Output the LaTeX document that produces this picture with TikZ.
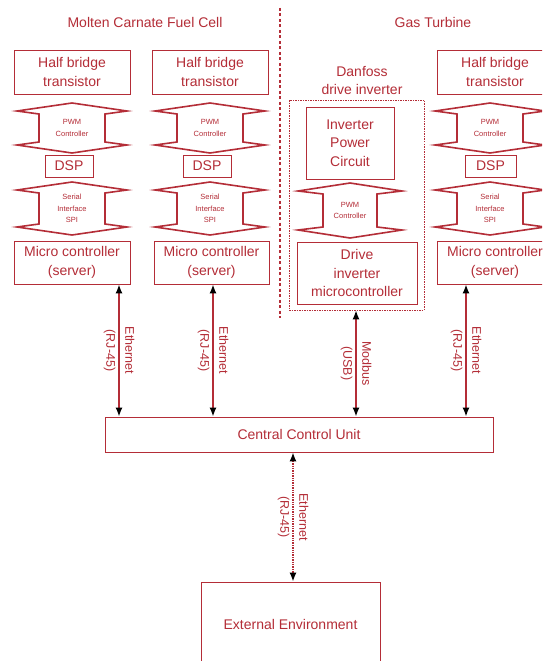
\documentclass[tikz,border=0pt]{standalone}
\usepackage{fontspec}
\setmainfont{Liberation Sans}
\usepackage{tikz}
\usetikzlibrary{arrows.meta,positioning}
\usepackage{xcolor}
\definecolor{fcred}{RGB}{180, 45, 55}

% double-headed block arrow: name, x, top, bottom, body half width, head half width, text
\newcommand{\fatarrow}[7]{%
  \draw[fat] (#2,#3) -- ({#2+#6},{#3+8}) -- ({#2+#5},{#3+11}) -- ({#2+#5},{#4-11})
    -- ({#2+#6},{#4-8}) -- (#2,#4) -- ({#2-#6},{#4-8}) -- ({#2-#5},{#4-11})
    -- ({#2-#5},{#3+11}) -- ({#2-#6},{#3+8}) -- cycle;
  \node[smalllbl] (#1) at (#2,{(#3+#4)/2}) {#7};
}

\begin{document}
\begin{tikzpicture}[
  x=1pt, y=-1pt,
  every node/.style={text=fcred, align=center},
  box/.style={draw=fcred, line width=0.9pt, inner sep=0pt, font=\fontsize{14}{18.5}\selectfont},
  fat/.style={draw=fcred, line width=1.6pt, line join=miter},
  smalllbl/.style={font=\fontsize{7.5}{11.5}\selectfont},
  heading/.style={font=\fontsize{14}{17}\selectfont},
  link/.style={draw=fcred, line width=1.4pt, arrows={Latex[black,length=9pt,width=7pt]-Latex[black,length=9pt,width=7pt]}},
  linklbl/.style={rotate=-90, font=\fontsize{12.5}{19}\selectfont}
]
  \useasboundingbox (0,0) rectangle (542,661);
  \clip (0,0) rectangle (542,661);
  \fill[white] (0,0) rectangle (542,661);

  % Titles and divider
  \node (ttlFC) [heading] at (145,22) {Molten Carnate Fuel Cell};
  \node (ttlGT) [heading] at (433,22) {Gas Turbine};
  \draw[fcred, line width=1.8pt, dash pattern=on 3pt off 2.5pt] (280,8) -- (280,318);

  % Fuel cell column 1
  \node (hbA) [box, minimum width=116, minimum height=44] at (72,72) {Half bridge\\transistor};
  \fatarrow{pwmA}{72}{103}{153}{33}{55}{PWM\\Controller}
  \node (dspA) [box, minimum width=48, minimum height=22] at (69,166) {DSP};
  \fatarrow{spiA}{72}{182}{235}{33}{55}{Serial\\Interface\\SPI}
  \node (mcA) [box, minimum width=116, minimum height=43] at (72,262.5) {Micro controller\\(server)};

  % Fuel cell column 2
  \node (hbB) [box, minimum width=116, minimum height=44] at (210,72) {Half bridge\\transistor};
  \fatarrow{pwmB}{210}{103}{153}{33}{55}{PWM\\Controller}
  \node (dspB) [box, minimum width=48, minimum height=22] at (207,166) {DSP};
  \fatarrow{spiB}{210}{182}{235}{33}{55}{Serial\\Interface\\SPI}
  \node (mcB) [box, minimum width=115, minimum height=43] at (211.5,262.5) {Micro controller\\(server)};

  % Danfoss drive inverter
  \node (dfLbl) at (362,81) [heading, font=\fontsize{14}{18}\selectfont] {Danfoss\\drive inverter};
  \node (dfBox) [draw=fcred, line width=0.8pt, dash pattern=on 1.5pt off 1pt, minimum width=135, minimum height=210] at (356.5,205) {};
  \node (invPow) [box, minimum width=88, minimum height=72] at (350,143) {Inverter\\Power\\Circuit};
  \fatarrow{pwmC}{350}{183}{238}{27}{52}{PWM\\Controller}
  \node (drvMc) [box, minimum width=120, minimum height=62] at (357,273) {Drive\\inverter\\microcontroller};

  % Gas turbine column
  \node (hbD) [box, minimum width=116, minimum height=44] at (495,72) {Half bridge\\transistor};
  \fatarrow{pwmD}{490}{103}{153}{33}{55}{PWM\\Controller}
  \node (dspD) [box, minimum width=51, minimum height=22] at (490.5,166) {DSP};
  \fatarrow{spiD}{490}{182}{235}{33}{55}{Serial\\Interface\\SPI}
  \node (mcD) [box, minimum width=116, minimum height=43] at (495,262.5) {Micro controller\\(server)};

  % Central unit and outside world
  \node (ccu) [box, minimum width=388, minimum height=35] at (299,434.5) {Central Control Unit};
  \node (extEnv) [box, minimum width=179, minimum height=84] at (290.5,624) {External Environment};

  % Link positions
  \coordinate (eA) at (119,0);
  \coordinate (eB) at (213,0);
  \coordinate (eC) at (356,0);
  \coordinate (eD) at (466,0);
  \coordinate (eE) at (293,0);

  % Links
  \draw[link] (mcA.south -| eA) -- node[linklbl] {Ethernet\\(RJ-45)} (ccu.north -| eA);
  \draw[link] (mcB.south -| eB) -- node[linklbl] {Ethernet\\(RJ-45)} (ccu.north -| eB);
  \draw[link] (dfBox.south -| eC) -- node[linklbl] {Modbus\\(USB)} (ccu.north -| eC);
  \draw[link] (mcD.south -| eD) -- node[linklbl] {Ethernet\\(RJ-45)} (ccu.north -| eD);
  \draw[link, densely dotted] (ccu.south -| eE) -- node[linklbl] {Ethernet\\(RJ-45)} (extEnv.north -| eE);
\end{tikzpicture}
\end{document}
